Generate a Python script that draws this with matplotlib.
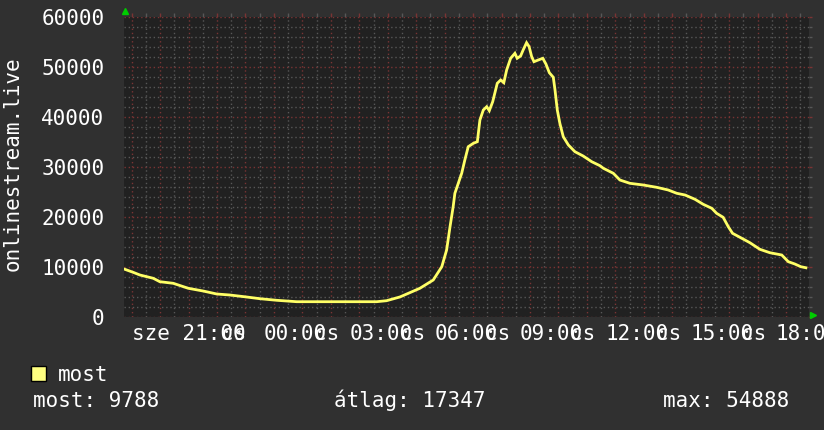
import matplotlib
matplotlib.use('Agg')
import matplotlib.pyplot as plt
import numpy as np
from matplotlib.ticker import MultipleLocator
from matplotlib.patches import Rectangle

# data: hours relative to midnight (negative = previous day), value of "most"
hours = [-5.24, -4.95, -4.71, -4.24, -4.01, -3.54, -3.01, -2.49, -2.01, -1.55,
         -0.96, -0.49, 0.10, 0.80, 1.62, 2.79, 3.61, 3.96, 4.43, 5.13,
         5.60, 5.90, 6.07, 6.19, 6.30, 6.36, 6.48, 6.60, 6.71, 6.83,
         7.01, 7.15, 7.24, 7.36, 7.48, 7.57, 7.69, 7.85, 7.97, 8.08,
         8.18, 8.32, 8.47, 8.55, 8.67, 8.76, 8.88, 8.97, 9.06, 9.14,
         9.29, 9.45, 9.56, 9.68, 9.82, 9.88, 9.96, 10.05, 10.17, 10.35,
         10.58, 10.87, 11.17, 11.46, 11.58, 11.93, 12.16, 12.51, 12.98, 13.45,
         13.86, 14.16, 14.45, 14.80, 15.09, 15.39, 15.56, 15.79, 15.97, 16.12,
         16.38, 16.73, 17.08, 17.43, 17.85, 18.08, 18.31, 18.52, 18.70]
values = [9480, 8880, 8340, 7680, 7000, 6680, 5680, 5140, 4540, 4340,
          3940, 3600, 3280, 3000, 3000, 3000, 3000, 3200, 3950, 5680,
          7340, 10000, 13340, 18000, 22000, 24680, 26680, 28680, 31340, 34000,
          34680, 35000, 39340, 41340, 42000, 41200, 43000, 46680, 47340, 46800,
          49340, 51680, 52680, 51680, 52140, 53340, 54800, 54000, 52000, 51000,
          51340, 51680, 50540, 48800, 47880, 45340, 41340, 38680, 36000, 34340,
          33000, 32140, 31000, 30200, 29680, 28680, 27340, 26680, 26340, 25880,
          25340, 24680, 24340, 23480, 22480, 21680, 20680, 19880, 18000, 16680,
          15880, 14800, 13480, 12800, 12340, 11000, 10540, 10000, 9788]

label_hours = [-3, 0, 3, 6, 9, 12, 15, 18]
label_texts = ['sze 21:00', '00:00', '03:00', '06:00', '09:00', '12:00', '15:00', '18:00']
ytick_vals = [0, 10000, 20000, 30000, 40000, 50000, 60000]
legend_name = 'most'
stats = ['most: 9788', 'átlag: 17347', 'max: 54888']

BG = '#303030'
PLOT_BG = '#212121'
FG = 'white'
MINOR = '#575757'
MAJOR = '#7a3434'
LINE = '#ffff66'
FONT = 'DejaVu Sans Mono'
FS = 15

plt.rcParams['font.family'] = FONT

fig = plt.figure(figsize=(8.24, 4.30), dpi=100, facecolor=BG)
ax = fig.add_axes([124 / 824, (430 - 316.7) / 430, (808.5 - 124) / 824, 300 / 430])
ax.set_facecolor(PLOT_BG)
ax.set_xlim(-5.27, 18.79)
ax.set_ylim(0, 60000)

ax.xaxis.set_major_locator(MultipleLocator(1))
ax.xaxis.set_minor_locator(MultipleLocator(0.5))
ax.yaxis.set_major_locator(MultipleLocator(10000))
ax.yaxis.set_minor_locator(MultipleLocator(2000))
ax.grid(which='minor', color=MINOR, linestyle=(0, (1, 2)), linewidth=1)
ax.grid(which='major', color=MAJOR, linestyle=(0, (1, 2)), linewidth=1)
ax.set_axisbelow(True)

for s in ax.spines.values():
    s.set_visible(False)

ax.tick_params(axis='x', which='both', bottom=False, top=True, labelbottom=False,
               direction='out', length=3, width=1)
ax.tick_params(axis='x', which='major', color=MAJOR)
ax.tick_params(axis='x', which='minor', color=MINOR)
ax.tick_params(axis='y', which='both', left=False, right=True, direction='out',
               length=2, width=1)
ax.tick_params(axis='y', which='major', color=MAJOR, labelcolor=FG, labelsize=FS, pad=12)
ax.tick_params(axis='y', which='minor', color=MINOR)
ax.set_yticks(ytick_vals)
ax.set_yticklabels([str(v) for v in ytick_vals])

ax.plot(hours, values, color=LINE, linewidth=2, solid_joinstyle='miter')

# x labels with the overlapping day name
trans = ax.get_xaxis_transform()
px_h = 1 / 28.45
for h, txt in zip(label_hours, label_texts):
    if txt.startswith('sze'):
        x0 = h - 2.0
        cs_x = x0 + 7 * 12.7 * px_h
    else:
        x0 = h - 0.355
        cs_x = x0 + 4 * 12.6 * px_h
    ax.text(x0, -0.0777, txt, transform=trans, ha='left', va='baseline',
            color=FG, fontsize=FS, clip_on=False)
    ax.text(cs_x, -0.0777, 'cs', transform=trans, ha='left', va='baseline',
            color=FG, fontsize=FS, clip_on=False)

# arrows
ax.plot([0.001], [1.018], marker='^', color='#00cc00', markersize=5,
        transform=ax.transAxes, clip_on=False)
ax.plot([1.007], [0.005], marker='>', color='#00cc00', markersize=5,
        transform=ax.transAxes, clip_on=False)

fig.text(13 / 824, 1 - 164 / 430, 'onlinestream.live', rotation=90, ha='center',
         va='center', color=FG, fontsize=FS)

# legend
fig.patches.append(Rectangle((31 / 824, 1 - 381 / 430), 15 / 824, 15 / 430,
                             transform=fig.transFigure, facecolor='#ffff80',
                             edgecolor='black', linewidth=1))
fig.text(58 / 824, 1 - 381 / 430, legend_name, ha='left', va='baseline',
         color=FG, fontsize=FS)
for x, s in zip([33, 334, 663], stats):
    fig.text(x / 824, 1 - 407 / 430, s, ha='left', va='baseline', color=FG, fontsize=FS)

fig.savefig('out.png', dpi=100, facecolor=BG)
